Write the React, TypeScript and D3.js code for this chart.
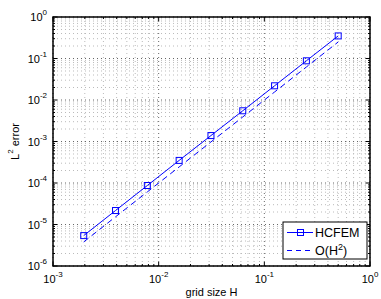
import React, { useEffect, useRef } from 'react';
import * as d3 from 'd3';

// grid sizes H = 1/512 ... 1/2
const gridSizes = [0.001953, 0.003906, 0.007813, 0.015625, 0.03125, 0.0625, 0.125, 0.25, 0.5];
const hcfemError = [5.4e-6, 2.17e-5, 8.7e-5, 3.5e-4, 1.39e-3, 5.5e-3, 2.2e-2, 8.8e-2, 3.5e-1];
const refError = [3.8e-6, 1.53e-5, 6.1e-5, 2.44e-4, 9.77e-4, 3.9e-3, 1.56e-2, 6.25e-2, 2.5e-1];
const xTicks = [-3, -2, -1, 0];
const yTicks = [-6, -5, -4, -3, -2, -1, 0];
const legendLabels = ['HCFEM', 'O(H', ')'];

const App: React.FC = () => {
  const svgRef = useRef(null);

  useEffect(() => {
    const width = 381;
    const height = 299;
    const marginLeft = 53;
    const marginRight = 11;
    const marginTop = 17;
    const marginBottom = 33;
    const font = '"Liberation Sans", Arial, sans-serif';

    const svg = d3.select(svgRef.current)
      .attr('width', width)
      .attr('height', height)
      .attr('viewBox', [0, 0, width, height]);
    svg.selectAll('*').remove();

    svg.append('rect').attr('width', width).attr('height', height).attr('fill', 'white');

    const x = d3.scaleLog().domain([1e-3, 1]).range([marginLeft, width - marginRight]);
    const y = d3.scaleLog().domain([1e-6, 1]).range([height - marginBottom, marginTop]);
    const x0 = marginLeft, x1 = width - marginRight, y0 = height - marginBottom, y1 = marginTop;

    const minorX: number[] = [];
    for (let e = -3; e < 0; e++) for (let k = 2; k <= 9; k++) minorX.push(k * Math.pow(10, e));
    const minorY: number[] = [];
    for (let e = -6; e < 0; e++) for (let k = 2; k <= 9; k++) minorY.push(k * Math.pow(10, e));

    const grid = svg.append('g');
    // minor grid
    minorX.forEach(v => grid.append('line')
      .attr('x1', x(v)).attr('x2', x(v)).attr('y1', y0).attr('y2', y1)
      .attr('stroke', '#bbb').attr('stroke-dasharray', '1,3'));
    minorY.forEach(v => grid.append('line')
      .attr('x1', x0).attr('x2', x1).attr('y1', y(v)).attr('y2', y(v))
      .attr('stroke', '#bbb').attr('stroke-dasharray', '1,3'));
    // major grid
    xTicks.forEach(e => grid.append('line')
      .attr('x1', x(Math.pow(10, e))).attr('x2', x(Math.pow(10, e))).attr('y1', y0).attr('y2', y1)
      .attr('stroke', '#666').attr('stroke-dasharray', '1,3'));
    yTicks.forEach(e => grid.append('line')
      .attr('x1', x0).attr('x2', x1).attr('y1', y(Math.pow(10, e))).attr('y2', y(Math.pow(10, e)))
      .attr('stroke', '#666').attr('stroke-dasharray', '1,3'));

    // ticks inward on all sides
    const ticks = svg.append('g').attr('stroke', 'black');
    xTicks.forEach(e => {
      const xv = x(Math.pow(10, e));
      ticks.append('line').attr('x1', xv).attr('x2', xv).attr('y1', y0).attr('y2', y0 - 4);
      ticks.append('line').attr('x1', xv).attr('x2', xv).attr('y1', y1).attr('y2', y1 + 4);
    });
    minorX.forEach(v => {
      ticks.append('line').attr('x1', x(v)).attr('x2', x(v)).attr('y1', y0).attr('y2', y0 - 2);
      ticks.append('line').attr('x1', x(v)).attr('x2', x(v)).attr('y1', y1).attr('y2', y1 + 2);
    });
    yTicks.forEach(e => {
      const yv = y(Math.pow(10, e));
      ticks.append('line').attr('x1', x0).attr('x2', x0 + 4).attr('y1', yv).attr('y2', yv);
      ticks.append('line').attr('x1', x1).attr('x2', x1 - 4).attr('y1', yv).attr('y2', yv);
    });
    minorY.forEach(v => {
      ticks.append('line').attr('x1', x0).attr('x2', x0 + 2).attr('y1', y(v)).attr('y2', y(v));
      ticks.append('line').attr('x1', x1).attr('x2', x1 - 2).attr('y1', y(v)).attr('y2', y(v));
    });

    // box
    svg.append('rect')
      .attr('x', x0).attr('y', y1).attr('width', x1 - x0).attr('height', y0 - y1)
      .attr('fill', 'none').attr('stroke', 'black').attr('stroke-width', 1.5);

    // tick labels
    xTicks.forEach(e => {
      const t = svg.append('text')
        .attr('x', x(Math.pow(10, e))).attr('y', 283)
        .attr('text-anchor', 'middle')
        .attr('font-family', font).attr('font-size', 11);
      t.append('tspan').text('10');
      t.append('tspan').attr('dy', -6).attr('font-size', 8).text(String(e));
    });
    yTicks.forEach(e => {
      const t = svg.append('text')
        .attr('x', 47).attr('y', y(Math.pow(10, e)) + 4)
        .attr('text-anchor', 'end')
        .attr('font-family', font).attr('font-size', 11);
      t.append('tspan').text('10');
      t.append('tspan').attr('dy', -6).attr('font-size', 8).text(String(e));
    });

    // axis labels
    svg.append('text')
      .attr('x', (x0 + x1) / 2).attr('y', 296)
      .attr('text-anchor', 'middle')
      .attr('font-family', font).attr('font-size', 11)
      .text('grid size H');
    const yl = svg.append('text')
      .attr('transform', `translate(19,${(y0 + y1) / 2}) rotate(-90)`)
      .attr('text-anchor', 'middle')
      .attr('font-family', font).attr('font-size', 11);
    yl.append('tspan').text('L');
    yl.append('tspan').attr('dy', -6).attr('font-size', 8).text('2');
    yl.append('tspan').attr('dy', 6).text(' error');

    // data
    const line = d3.line<number>()
      .x((_, i) => x(gridSizes[i]))
      .y(d => y(d));

    svg.append('path')
      .attr('d', line(refError))
      .attr('fill', 'none').attr('stroke', 'blue').attr('stroke-width', 1)
      .attr('stroke-dasharray', '6,4');
    svg.append('path')
      .attr('d', line(hcfemError))
      .attr('fill', 'none').attr('stroke', 'blue').attr('stroke-width', 1);
    svg.selectAll('rect.mk')
      .data(hcfemError)
      .enter()
      .append('rect')
      .attr('class', 'mk')
      .attr('x', (_, i) => x(gridSizes[i]) - 3)
      .attr('y', d => y(d) - 3)
      .attr('width', 6).attr('height', 6)
      .attr('fill', 'none').attr('stroke', 'blue');

    // legend
    const lg = svg.append('g');
    lg.append('rect')
      .attr('x', 283).attr('y', 222).attr('width', 84).attr('height', 37)
      .attr('fill', 'white').attr('stroke', 'black');
    lg.append('line').attr('x1', 287).attr('x2', 313).attr('y1', 232.5).attr('y2', 232.5)
      .attr('stroke', 'blue');
    lg.append('rect').attr('x', 297.5).attr('y', 229.5).attr('width', 6).attr('height', 6)
      .attr('fill', 'none').attr('stroke', 'blue');
    lg.append('line').attr('x1', 287).attr('x2', 313).attr('y1', 250.5).attr('y2', 250.5)
      .attr('stroke', 'blue').attr('stroke-dasharray', '5,4');
    lg.append('text').attr('x', 315).attr('y', 237)
      .attr('font-family', font).attr('font-size', 12.5).text(legendLabels[0]);
    const l2 = lg.append('text').attr('x', 315).attr('y', 255)
      .attr('font-family', font).attr('font-size', 12.5);
    l2.append('tspan').text(legendLabels[1]);
    l2.append('tspan').attr('dy', -5).attr('font-size', 9).text('2');
    l2.append('tspan').attr('dy', 5).text(legendLabels[2]);
  }, []);

  return (
    <svg ref={svgRef} style={{ position: 'absolute', left: 0, top: 0 }}></svg>
  );
};

export default App;
